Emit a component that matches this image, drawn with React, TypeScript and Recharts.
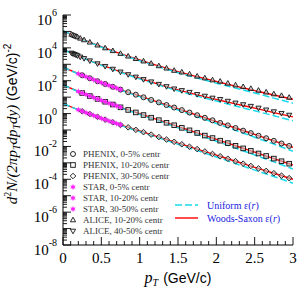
import React from "react";
import { ComposedChart, Line, Scatter, XAxis, YAxis, Legend } from "recharts";

const SERIF = "'Liberation Serif', 'Times New Roman', serif";
const SANS = "'Liberation Sans', Arial, sans-serif";

const W = 302;
const H = 295;

// ---------------------------------------------------------------------------
// Model curves (hydro fits), pT grid in GeV/c
// ---------------------------------------------------------------------------
const curvePt = [0, 0.25, 0.5, 0.75, 1, 1.25, 1.5, 1.75, 2, 2.25, 2.5, 2.75, 3];

const wsAlice1020 = [1.1e5, 3.39e4, 1.17e4, 4.47e3, 1.82e3, 794, 355, 174, 89.1, 46.8, 25.1, 13.5, 7.41];
const uniAlice1020 = [1.1e5, 3.31e4, 1.12e4, 4.17e3, 1.66e3, 708, 309, 145, 70.8, 35.5, 17.8, 8.71, 4.27];
const wsAlice4050 = [8.13e3, 2.57e3, 912, 347, 141, 60.3, 27.5, 13.8, 7.24, 3.89, 2.14, 1.15, 0.631];
const uniAlice4050 = [8.13e3, 2.51e3, 871, 324, 129, 53.7, 24.0, 11.5, 5.75, 2.88, 1.48, 0.741, 0.363];
const wsPhenix0005 = [661, 214, 75.9, 28.8, 11.7, 4.79, 1.95, 0.794, 0.324, 0.132, 0.0537, 0.0219, 0.00891];
const uniPhenix0005 = [661, 209, 72.4, 26.9, 10.7, 4.27, 1.66, 0.646, 0.251, 0.0955, 0.0363, 0.0138, 0.00513];
const wsPhenix1020 = [55.0, 17.8, 6.31, 2.4, 0.977, 0.398, 0.162, 0.0661, 0.0269, 0.011, 0.00447, 0.00182, 0.000741];
const uniPhenix1020 = [55.0, 17.4, 6.03, 2.24, 0.891, 0.355, 0.138, 0.0537, 0.0209, 0.00794, 0.00302, 0.00115, 0.000427];
const wsPhenix3050 = [4.07, 1.38, 0.513, 0.204, 0.0871, 0.0372, 0.0158, 0.00692, 0.00295, 0.00126, 0.000537, 0.000234, 1.0e-4];
const uniPhenix3050 = [4.07, 1.35, 0.49, 0.191, 0.0794, 0.0331, 0.0135, 0.00562, 0.00229, 0.000912, 0.000363, 0.000148, 5.75e-5];

// ---------------------------------------------------------------------------
// Data points
// ---------------------------------------------------------------------------
const phenixPt = [
  0.25, 0.35, 0.45, 0.55, 0.65, 0.75, 0.85, 0.95, 1.05, 1.15, 1.25, 1.35, 1.45, 1.55,
  1.65, 1.75, 1.85, 1.95, 2.05, 2.15, 2.25, 2.35, 2.45, 2.55, 2.65, 2.75, 2.85, 2.95,
];
const phenix0005 = [
  214, 141, 93.3, 63.1, 42.7, 28.8, 20.0, 14.1, 9.77, 6.76, 4.79, 3.31, 2.34, 1.62,
  1.15, 0.794, 0.55, 0.389, 0.269, 0.191, 0.132, 0.0912, 0.0646, 0.0447, 0.0316, 0.0219, 0.0151, 0.0107,
];
const phenix1020 = [
  17.8, 11.7, 7.76, 5.25, 3.55, 2.4, 1.66, 1.17, 0.813, 0.562, 0.398, 0.275, 0.195, 0.135,
  0.0957, 0.0661, 0.0458, 0.0324, 0.0224, 0.0159, 0.011, 0.00759, 0.00537, 0.00372, 0.00263, 0.00182, 0.00126, 0.00089,
];
const phenix3050 = [
  1.38, 0.933, 0.631, 0.427, 0.295, 0.204, 0.145, 0.102, 0.0741, 0.0525, 0.0372, 0.0263, 0.0191, 0.0135,
  0.00955, 0.00692, 0.0049, 0.00347, 0.00251, 0.00178, 0.00126, 0.000891, 0.000646, 0.000457, 0.000324, 0.000234, 0.000166, 0.000117,
];

const starPt = [0.2, 0.25, 0.3, 0.35, 0.4, 0.45, 0.5, 0.55, 0.6, 0.65, 0.7, 0.75];
const star0005 = [263, 214, 174, 141, 115, 93.3, 75.9, 63.1, 51.3, 42.7, 35.5, 28.8];
const star1020 = [21.9, 17.8, 14.5, 11.7, 9.57, 7.76, 6.31, 5.25, 4.27, 3.55, 2.95, 2.4];
const star3050 = [1.7, 1.38, 1.12, 0.933, 0.759, 0.631, 0.513, 0.427, 0.355, 0.295, 0.245, 0.204];

const alicePt = [
  0.11, 0.13, 0.15, 0.17, 0.19, 0.225, 0.275, 0.35, 0.45, 0.55, 0.65, 0.75, 0.85, 0.95, 1.05, 1.15, 1.25,
  1.35, 1.45, 1.55, 1.65, 1.75, 1.85, 1.95, 2.05, 2.15, 2.25, 2.35, 2.45, 2.55, 2.65, 2.75, 2.85, 2.95,
];
const alice1020 = [
  66100, 60300, 55000, 50100, 45700, 38000, 30200, 21900, 14500, 9770, 6610, 4470, 3090, 2190, 1550, 1120, 794,
  575, 417, 331, 251, 186, 145, 110, 91.2, 69.2, 53.7, 42.7, 33.1, 25.7, 20.0, 15.5, 12.3, 9.55,
];
const alice4050 = [
  4900, 4470, 4070, 3720, 3390, 2820, 2290, 1660, 1100, 759, 513, 347, 240, 170, 120, 87.1, 61.7,
  44.7, 32.4, 25.7, 20.0, 14.8, 11.7, 8.91, 7.41, 5.75, 4.47, 3.55, 2.82, 2.19, 1.7, 1.32, 1.05, 0.813,
];

// ---------------------------------------------------------------------------
// Axes
// ---------------------------------------------------------------------------
const xDomain: [number, number] = [0, 3];
const yDomain: [number, number] = [1e-8, 1e6];
const yLabelExps = [-8, -6, -4, -2, 0, 2, 4, 6];

const xTicks = Array.from({ length: 31 }, (_, i) => i / 10);
const yTicks: number[] = [];
for (let e = -8; e <= 6; e++) {
  yTicks.push(Math.pow(10, e));
  if (e < 6) for (let m = 2; m <= 9; m++) yTicks.push(m * Math.pow(10, e));
}

const legendRows = [
  { kind: "circle", text: "PHENIX, 0-5% centr" },
  { kind: "square", text: "PHENIX, 10-20% centr" },
  { kind: "diamond", text: "PHENIX, 30-50% centr" },
  { kind: "star", text: "STAR, 0-5% centr" },
  { kind: "star", text: "STAR, 10-20% centr" },
  { kind: "star", text: "STAR, 30-50% centr" },
  { kind: "up", text: "ALICE, 10-20% centr" },
  { kind: "down", text: "ALICE, 40-50% centr" },
];

const toXY = (xs: number[], ys: number[]) => xs.map((x, i) => ({ x, y: ys[i] }));

const RED = "#ff0000";
const CYAN = "#19d9ec";
const MAGENTA = "#ff22ff";
const INK = "#111";
const SHADE = "#c4c4c4";

// ---------------------------------------------------------------------------
// Markers
// ---------------------------------------------------------------------------
function Marker({ kind, cx, cy, shade = true }: { kind: string; cx: number; cy: number; shade?: boolean }) {
  const sw = 0.9;
  const fill = shade ? SHADE : "none";
  switch (kind) {
    case "circle":
      return <circle cx={cx} cy={cy} r={2.5} fill={fill} fillOpacity={0.6} stroke={INK} strokeWidth={sw} />;
    case "square":
      return (
        <rect x={cx - 2.3} y={cy - 2.3} width={4.6} height={4.6} fill={fill} fillOpacity={0.6} stroke={INK} strokeWidth={sw} />
      );
    case "diamond":
      return (
        <polygon
          points={`${cx},${cy - 2.8} ${cx + 2.8},${cy} ${cx},${cy + 2.8} ${cx - 2.8},${cy}`}
          fill={fill}
          fillOpacity={0.6}
          stroke={INK}
          strokeWidth={sw}
        />
      );
    case "up":
      return (
        <polygon
          points={`${cx},${cy - 2.8} ${cx + 2.6},${cy + 1.8} ${cx - 2.6},${cy + 1.8}`}
          fill={fill}
          fillOpacity={0.6}
          stroke={INK}
          strokeWidth={sw}
        />
      );
    case "down":
      return (
        <polygon
          points={`${cx},${cy + 2.8} ${cx + 2.6},${cy - 1.8} ${cx - 2.6},${cy - 1.8}`}
          fill={fill}
          fillOpacity={0.6}
          stroke={INK}
          strokeWidth={sw}
        />
      );
    case "star": {
      const pts: string[] = [];
      for (let k = 0; k < 12; k++) {
        const r = k % 2 === 0 ? 3.2 : 1.5;
        const a = (Math.PI / 6) * k - Math.PI / 2;
        pts.push(`${cx + r * Math.cos(a)},${cy + r * Math.sin(a)}`);
      }
      return <polygon points={pts.join(" ")} fill={MAGENTA} stroke="none" />;
    }
    default:
      return null;
  }
}

const shapeOf = (kind: string) => (p: any) => <Marker kind={kind} cx={p.cx} cy={p.cy} />;

// ---------------------------------------------------------------------------
// Ticks (drawn inward, like the original)
// ---------------------------------------------------------------------------
const isPow10 = (v: number) => {
  const e = Math.log10(v);
  return Math.abs(e - Math.round(e)) < 1e-6;
};
const isHalf = (v: number) => Math.abs(v * 2 - Math.round(v * 2)) < 1e-6;

function LeftTick(props: any) {
  const { x, y, payload } = props;
  const v = payload.value as number;
  const major = isPow10(v);
  const exp = Math.round(Math.log10(v));
  return (
    <g>
      <line x1={x} y1={y} x2={x + (major ? 8 : 4)} y2={y} stroke="#000" strokeWidth={0.9} />
      {major && yLabelExps.includes(exp) && (
        <text x={x - 6} y={y + 10} textAnchor="end" fontFamily={SERIF} fontSize={15} fill="#000">
          10
          <tspan dy={-9} fontSize={10}>
            {exp}
          </tspan>
        </text>
      )}
    </g>
  );
}

function RightTick(props: any) {
  const { x, y, payload } = props;
  const major = isPow10(payload.value);
  return <line x1={x} y1={y} x2={x - (major ? 8 : 4)} y2={y} stroke="#000" strokeWidth={0.9} />;
}

function BottomTick(props: any) {
  const { x, y, payload } = props;
  const v = payload.value as number;
  const major = isHalf(v);
  return (
    <g>
      <line x1={x} y1={y} x2={x} y2={y - (major ? 8 : 4)} stroke="#000" strokeWidth={0.9} />
      {major && (
        <text x={x} y={y + 18} textAnchor="middle" fontFamily={SERIF} fontSize={15} fill="#000">
          {String(v)}
        </text>
      )}
    </g>
  );
}

function TopTick(props: any) {
  const { x, y, payload } = props;
  const major = isHalf(payload.value);
  return <line x1={x} y1={y} x2={x} y2={y + (major ? 8 : 4)} stroke="#000" strokeWidth={0.9} />;
}

// ---------------------------------------------------------------------------
// Axis titles
// ---------------------------------------------------------------------------
function YTitle() {
  return (
    <text transform="translate(17,124) rotate(-90)" textAnchor="middle" fontSize={15} fill="#000">
      <tspan fontFamily={SERIF} fontStyle="italic">d</tspan>
      <tspan fontFamily={SERIF} fontSize={10} dy={-6}>2</tspan>
      <tspan fontFamily={SERIF} fontStyle="italic" dy={6}>N/(2πp</tspan>
      <tspan fontFamily={SERIF} fontStyle="italic" fontSize={10} dy={3}>T</tspan>
      <tspan fontFamily={SERIF} fontStyle="italic" dy={-3}>dp</tspan>
      <tspan fontFamily={SERIF} fontStyle="italic" fontSize={10} dy={3}>T</tspan>
      <tspan fontFamily={SERIF} fontStyle="italic" dy={-3}>dy)</tspan>
      <tspan fontFamily={SANS} fontSize={14} dx={4}>(GeV/c)</tspan>
      <tspan fontFamily={SANS} fontSize={10} dy={-6}>-2</tspan>
    </text>
  );
}

function XTitle() {
  return (
    <text x={178} y={283} textAnchor="middle" fontSize={15} fill="#000">
      <tspan fontFamily={SERIF} fontStyle="italic" fontSize={16}>p</tspan>
      <tspan fontFamily={SERIF} fontStyle="italic" fontSize={10} dy={3}>T</tspan>
      <tspan fontFamily={SANS} fontSize={14} dy={-3} dx={5}>(GeV/c)</tspan>
    </text>
  );
}

// ---------------------------------------------------------------------------
// Legend overlay
// ---------------------------------------------------------------------------
function LegendBox() {
  return (
    <svg width={W} height={H} style={{ display: "block" }}>
      {legendRows.map((row, i) => {
        const cy = 154 + i * 11;
        return (
          <g key={row.text}>
            <Marker kind={row.kind} cx={73} cy={cy} shade={false} />
            <text x={83} y={cy + 3} fontFamily={SERIF} fontSize={9} fill="#333">
              {row.text}
            </text>
          </g>
        );
      })}
      <line x1={175} y1={205} x2={198} y2={205} stroke={CYAN} strokeWidth={1.5} strokeDasharray="7 3" />
      <text x={207} y={208.5} fontFamily={SERIF} fontSize={10} fill="#2020e0">
        Uniform ε(<tspan fontStyle="italic">r</tspan>)
      </text>
      <line x1={175} y1={218} x2={198} y2={218} stroke={RED} strokeWidth={1.4} />
      <text x={207} y={221.5} fontFamily={SERIF} fontSize={10} fill="#2020e0">
        Woods-Saxon ε(<tspan fontStyle="italic">r</tspan>)
      </text>
      <XTitle />
      <YTitle />
    </svg>
  );
}

const curves = [
  { ws: wsAlice1020, uni: uniAlice1020 },
  { ws: wsAlice4050, uni: uniAlice4050 },
  { ws: wsPhenix0005, uni: uniPhenix0005 },
  { ws: wsPhenix1020, uni: uniPhenix1020 },
  { ws: wsPhenix3050, uni: uniPhenix3050 },
];

const points = [
  { kind: "circle", xs: phenixPt, ys: phenix0005 },
  { kind: "square", xs: phenixPt, ys: phenix1020 },
  { kind: "diamond", xs: phenixPt, ys: phenix3050 },
  { kind: "star", xs: starPt, ys: star0005 },
  { kind: "star", xs: starPt, ys: star1020 },
  { kind: "star", xs: starPt, ys: star3050 },
  { kind: "up", xs: alicePt, ys: alice1020 },
  { kind: "down", xs: alicePt, ys: alice4050 },
];

export default function App() {
  return (
    <div style={{ position: "absolute", left: 0, top: 0, width: W, height: H, background: "#fff" }}>
      <ComposedChart width={W} height={H} margin={{ top: 15, right: 9, bottom: 0, left: 0 }}>
        <XAxis
          xAxisId="b"
          dataKey="x"
          type="number"
          domain={xDomain}
          ticks={xTicks}
          interval={0}
          allowDataOverflow
          height={50}
          tickSize={0}
          tickMargin={0}
          tickLine={false}
          tick={<BottomTick />}
          axisLine={{ stroke: "#000", strokeWidth: 1 }}
        />
        <XAxis
          xAxisId="t"
          orientation="top"
          dataKey="x"
          type="number"
          domain={xDomain}
          ticks={xTicks}
          interval={0}
          allowDataOverflow
          height={0}
          tickSize={0}
          tickMargin={0}
          tickLine={false}
          tick={<TopTick />}
          axisLine={{ stroke: "#000", strokeWidth: 1 }}
        />
        <YAxis
          yAxisId="l"
          dataKey="y"
          type="number"
          scale="log"
          domain={yDomain}
          ticks={yTicks}
          interval={0}
          allowDataOverflow
          width={63}
          tickSize={0}
          tickMargin={0}
          tickLine={false}
          tick={<LeftTick />}
          axisLine={{ stroke: "#000", strokeWidth: 1 }}
        />
        <YAxis
          yAxisId="r"
          orientation="right"
          dataKey="y"
          type="number"
          scale="log"
          domain={yDomain}
          ticks={yTicks}
          interval={0}
          allowDataOverflow
          width={0}
          tickSize={0}
          tickMargin={0}
          tickLine={false}
          tick={<RightTick />}
          axisLine={{ stroke: "#000", strokeWidth: 1 }}
        />

        {curves.map((c, i) => (
          <Line
            key={`ws-${i}`}
            xAxisId="b"
            yAxisId="l"
            data={toXY(curvePt, c.ws)}
            dataKey="y"
            type="monotone"
            stroke={RED}
            strokeWidth={1.4}
            dot={false}
            activeDot={false}
            isAnimationActive={false}
          />
        ))}
        {curves.map((c, i) => (
          <Line
            key={`uni-${i}`}
            xAxisId="b"
            yAxisId="l"
            data={toXY(curvePt, c.uni)}
            dataKey="y"
            type="monotone"
            stroke={CYAN}
            strokeWidth={1.5}
            strokeDasharray="7 3"
            dot={false}
            activeDot={false}
            isAnimationActive={false}
          />
        ))}
        {points.map((p, i) => (
          <Scatter
            key={`pts-${i}`}
            xAxisId="b"
            yAxisId="l"
            data={toXY(p.xs, p.ys)}
            dataKey="y"
            shape={shapeOf(p.kind)}
            isAnimationActive={false}
          />
        ))}

        <Legend
          layout="horizontal"
          verticalAlign="middle"
          align="center"
          wrapperStyle={{ left: 0, top: 0, width: W, height: H }}
          content={() => <LegendBox />}
        />
      </ComposedChart>
    </div>
  );
}
